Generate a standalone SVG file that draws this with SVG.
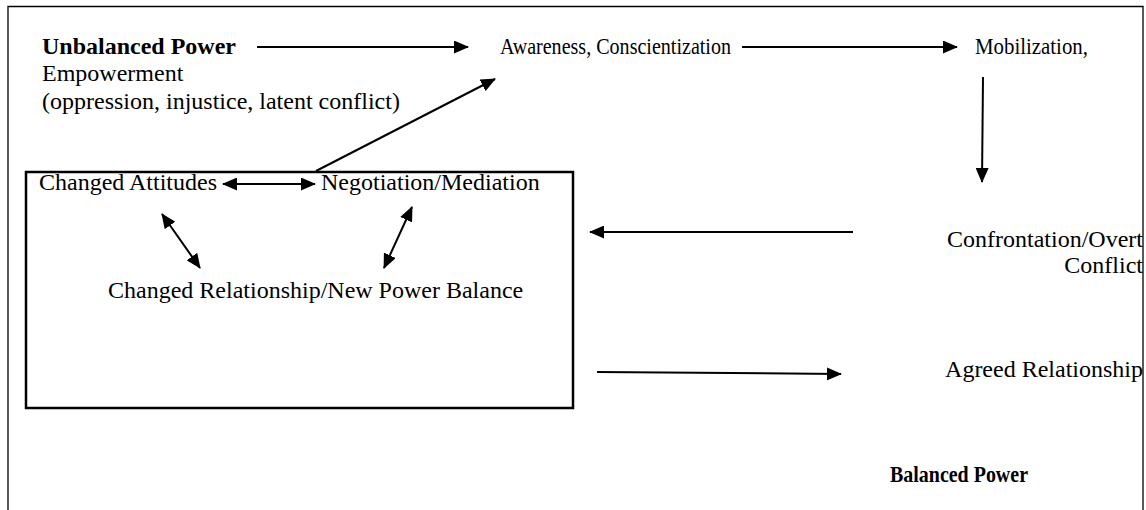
<svg xmlns="http://www.w3.org/2000/svg" width="1146" height="510" viewBox="0 0 1146 510">
<style>
.t{font-family:"Liberation Serif","Times New Roman",serif;font-size:24px;fill:#000}
.b{font-weight:bold}
.c{stroke:#000;stroke-width:2;fill:none}
</style>
<defs>
<marker id="ah" viewBox="0 0 15 13" refX="14" refY="6.5" markerWidth="15" markerHeight="13" markerUnits="userSpaceOnUse" orient="auto-start-reverse">
<path d="M0,0 L15,6.5 L0,13 z" fill="#000"/>
</marker>
</defs>
<rect width="1146" height="510" fill="#fff"/>
<path d="M8,512 V6.5 H1143 V512" fill="none" stroke="#000" stroke-width="1.3"/>
<g id="box"><rect x="26" y="172" width="547" height="236" fill="none" stroke="#000" stroke-width="2.5"/></g>
<g id="unbalanced"><text class="t b" x="42" y="54">Unbalanced Power</text>
<text class="t" x="42" y="81">Empowerment</text>
<text class="t" x="42" y="109">(oppression, injustice, latent conflict)</text></g>
<g id="awareness"><text class="t" x="500" y="54" textLength="231" lengthAdjust="spacingAndGlyphs">Awareness, Conscientization</text></g>
<g id="mobilization"><text class="t" x="975" y="54" textLength="113" lengthAdjust="spacingAndGlyphs">Mobilization,</text></g>
<g id="attitudes"><text class="t" x="39" y="190">Changed Attitudes</text></g>
<g id="negotiation"><text class="t" x="321" y="190">Negotiation/Mediation</text></g>
<g id="relationship"><text class="t" x="108" y="298">Changed Relationship/New Power Balance</text></g>
<g id="confrontation"><text class="t" x="1143" y="247" text-anchor="end">Confrontation/Overt</text>
<text class="t" x="1143" y="273" text-anchor="end">Conflict</text></g>
<g id="agreed"><text class="t" x="1143" y="377" text-anchor="end">Agreed Relationship</text></g>
<g id="balanced"><text class="t b" x="890" y="482" textLength="138" lengthAdjust="spacingAndGlyphs">Balanced Power</text></g>
<g id="connectors">
<line class="c" x1="257" y1="47" x2="468" y2="47" marker-end="url(#ah)"/>
<line class="c" x1="742" y1="47" x2="957" y2="47" marker-end="url(#ah)"/>
<line class="c" x1="983" y1="77" x2="982" y2="182" marker-end="url(#ah)"/>
<line class="c" x1="316" y1="171" x2="495" y2="79" marker-end="url(#ah)"/>
<line class="c" x1="223" y1="184" x2="315" y2="184" marker-start="url(#ah)" marker-end="url(#ah)"/>
<line class="c" x1="162" y1="214" x2="200" y2="268" marker-start="url(#ah)" marker-end="url(#ah)"/>
<line class="c" x1="412" y1="207" x2="384" y2="268" marker-start="url(#ah)" marker-end="url(#ah)"/>
<line class="c" x1="853" y1="232" x2="590" y2="232" marker-end="url(#ah)"/>
<line class="c" x1="597" y1="372" x2="841" y2="374" marker-end="url(#ah)"/>
</g>
</svg>
